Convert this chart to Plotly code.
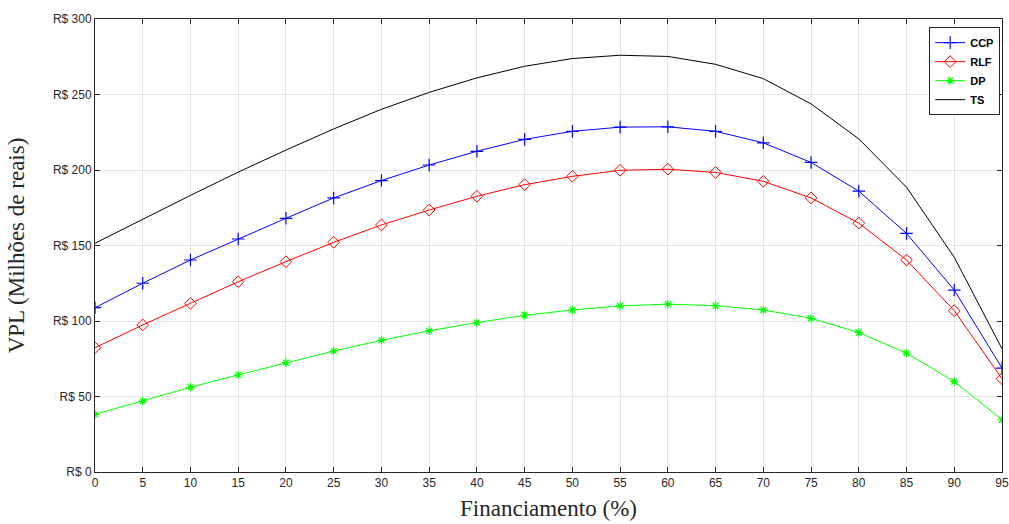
import plotly.graph_objects as go

financiamento = [0, 5, 10, 15, 20, 25, 30, 35, 40, 45, 50, 55, 60, 65, 70, 75, 80, 85, 90, 95]
ccp = [108.8, 125.0, 140.4, 154.3, 168.0, 181.5, 193.0, 203.3, 212.4, 220.3, 225.6, 228.4, 228.6, 225.6, 218.0, 205.0, 186.0, 158.0, 120.5, 68.8]
rlf = [82.3, 97.4, 111.7, 126.0, 139.3, 152.1, 163.6, 173.5, 182.6, 190.3, 195.8, 199.8, 200.5, 198.4, 192.5, 181.5, 164.8, 140.4, 106.8, 61.8]
dp = [38.2, 47.0, 56.1, 64.3, 72.4, 80.1, 87.2, 93.5, 98.9, 103.8, 107.3, 110.0, 111.2, 110.1, 107.3, 101.8, 92.4, 78.7, 59.9, 34.6]
ts = [151.5, 167.6, 183.2, 198.6, 213.2, 227.2, 240.2, 251.4, 261.0, 268.7, 273.8, 276.0, 275.2, 270.0, 260.5, 243.8, 220.6, 188.6, 142.2, 81.6]

y_ticks = [0, 50, 100, 150, 200, 250, 300]
y_ticklabels = ["R$ 0", "R$ 50", "R$ 100", "R$ 150", "R$ 200", "R$ 250", "R$ 300"]

fig = go.Figure()
fig.add_trace(go.Scatter(x=financiamento, y=ccp, name="CCP", mode="lines+markers",
                         line=dict(color="#0000ff", width=1),
                         marker=dict(symbol="cross-thin", size=9, line=dict(color="#0000ff", width=1.2))))
fig.add_trace(go.Scatter(x=financiamento, y=rlf, name="RLF", mode="lines+markers",
                         line=dict(color="#ff0000", width=1),
                         marker=dict(symbol="diamond-open", size=9, color="#ff0000", line=dict(width=1))))
fig.add_trace(go.Scatter(x=financiamento, y=dp, name="DP", mode="lines+markers",
                         line=dict(color="#00ff00", width=1),
                         marker=dict(symbol="asterisk-open", size=7, line=dict(color="#00ff00", width=1.2))))
fig.add_trace(go.Scatter(x=financiamento, y=ts, name="TS", mode="lines",
                         line=dict(color="#000000", width=1)))

axis_common = dict(showline=True, linecolor="#262626", linewidth=1, mirror="ticks",
                   ticks="inside", ticklen=5, tickcolor="#262626", automargin=False,
                   showgrid=True, gridcolor="#e3e3e3", gridwidth=1, zeroline=False,
                   tickfont=dict(family="Liberation Sans, Arial", size=12, color="#262626"))

fig.update_layout(
    width=1009, height=524,
    margin=dict(l=95, r=7, t=19, b=52),
    paper_bgcolor="white", plot_bgcolor="white",
    xaxis=dict(range=[0, 95], tickvals=financiamento, ticklabeloverflow="allow", **axis_common,
               title=dict(text="Financiamento (%)", standoff=10,
                          font=dict(family="Liberation Serif, Times New Roman", size=23, color="#262626"))),
    yaxis=dict(range=[0, 300], tickvals=y_ticks, ticktext=y_ticklabels, **axis_common,
               title=dict(text="VPL (Milhões de reais)", standoff=21,
                          font=dict(family="Liberation Serif, Times New Roman", size=23, color="#262626"))),
    legend=dict(x=0.998, y=0.982, xanchor="right", yanchor="top",
                bgcolor="white", bordercolor="#262626", borderwidth=1,
                font=dict(family="Liberation Sans, Arial", size=11, color="#000000", weight="bold"),
                itemwidth=30, tracegroupgap=0),
    showlegend=True,
)

fig.write_html("out.html", config={"displayModeBar": False},
               post_script="document.body.style.margin='0';document.body.style.overflow='hidden';")
